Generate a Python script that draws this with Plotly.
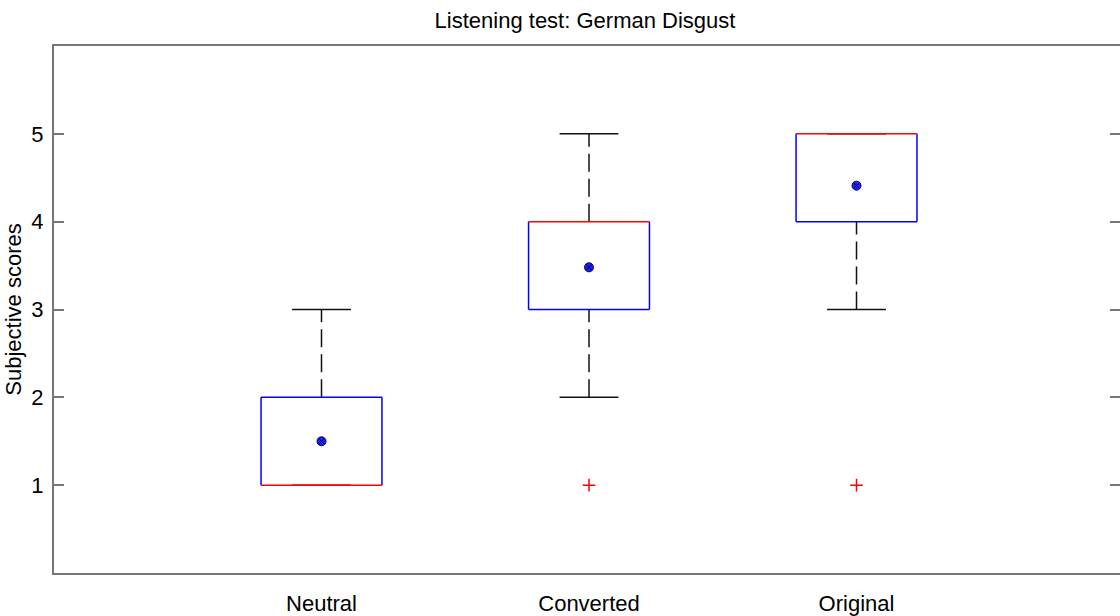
import plotly.graph_objects as go

categories = ["Neutral", "Converted", "Original"]
q1 = [1, 3, 4]
median = [1, 4, 5]
q3 = [2, 4, 5]
lower_whisker = [1, 2, 3]
upper_whisker = [3, 5, 5]
means = [1.5, 3.48, 4.41]
outlier_cat = ["Converted", "Original"]
outlier_val = [1, 1]
yticks = [1, 2, 3, 4, 5]

pos = {c: i + 1 for i, c in enumerate(categories)}
BOX_HW = 0.226
CAP_HW = 0.11

box_x, box_y, med_x, med_y = [], [], [], []
wh_x, wh_y, cap_x, cap_y = [], [], [], []
for c, a, m, b, lo, hi in zip(categories, q1, median, q3, lower_whisker, upper_whisker):
    p = pos[c]
    # box sides
    box_x += [p - BOX_HW, p - BOX_HW, None, p + BOX_HW, p + BOX_HW, None]
    box_y += [a, b, None, a, b, None]
    # horizontal edges (skip where the median coincides)
    for edge in (a, b):
        if edge != m:
            box_x += [p - BOX_HW, p + BOX_HW, None]
            box_y += [edge, edge, None]
    med_x += [p - BOX_HW, p + BOX_HW, None]
    med_y += [m, m, None]
    if hi > b:
        wh_x += [p, p, None]
        wh_y += [b, hi, None]
    if lo < a:
        wh_x += [p, p, None]
        wh_y += [lo, a, None]
    cap_x += [p - CAP_HW, p + CAP_HW, None, p - CAP_HW, p + CAP_HW, None]
    cap_y += [hi, hi, None, lo, lo, None]

fig = go.Figure()
fig.add_trace(go.Scatter(x=wh_x, y=wh_y, mode="lines",
                         line=dict(color="#111111", width=1.5, dash="18px,7px"), hoverinfo="skip"))
fig.add_trace(go.Scatter(x=cap_x, y=cap_y, mode="lines",
                         line=dict(color="#111111", width=1.5), hoverinfo="skip"))
fig.add_trace(go.Scatter(x=box_x, y=box_y, mode="lines",
                         line=dict(color="#0000ff", width=1.5), hoverinfo="skip"))
fig.add_trace(go.Scatter(x=med_x, y=med_y, mode="lines",
                         line=dict(color="#ff0000", width=1.5), hoverinfo="skip"))
fig.add_trace(go.Scatter(x=[pos[c] for c in outlier_cat], y=outlier_val, mode="markers",
                         marker=dict(symbol="cross-thin", size=9, line=dict(color="#ff0000", width=1.5))))
fig.add_trace(go.Scatter(x=[pos[c] for c in categories], y=means, mode="markers",
                         marker=dict(symbol="circle-x", size=9, color="#2020ff",
                                     line=dict(color="#000060", width=1))))
# invisible trace to anchor the right-side tick axis
fig.add_trace(go.Scatter(x=[None], y=[None], yaxis="y2", showlegend=False, hoverinfo="skip"))

font = "Liberation Sans, Arial, sans-serif"
fig.update_layout(
    width=1120, height=616,
    margin=dict(l=54, r=0, t=46, b=41),
    plot_bgcolor="white", paper_bgcolor="white",
    showlegend=False,
    font=dict(family=font, size=22, color="black"),
    title=dict(text="Listening test: German Disgust", x=585 / 1120, xanchor="center",
               y=1 - 20 / 616, yanchor="middle", yref="container",
               font=dict(family=font, size=22, color="black")),
    xaxis=dict(range=[0, 3.985], tickvals=[pos[c] for c in categories], ticktext=categories,
               showgrid=False, zeroline=False, showline=True, linecolor="#777777", linewidth=2,
               mirror=True, ticks="", ticklabelstandoff=10, tickfont=dict(size=22)),
    yaxis=dict(range=[0, 6], tickvals=yticks, showgrid=False, zeroline=False,
               showline=True, linecolor="#777777", linewidth=2, mirror=False,
               ticks="inside", ticklen=10, tickwidth=2, tickcolor="#777777",
               tickfont=dict(size=22), ticklabelstandoff=4,
               title=dict(text="Subjective scores", standoff=4, font=dict(size=22))),
    yaxis2=dict(range=[0, 6], tickvals=yticks, overlaying="y", side="right",
                showgrid=False, zeroline=False, showline=False, showticklabels=False,
                ticks="inside", ticklen=10, tickwidth=2, tickcolor="#777777"),
)
fig.write_html("out.html")
